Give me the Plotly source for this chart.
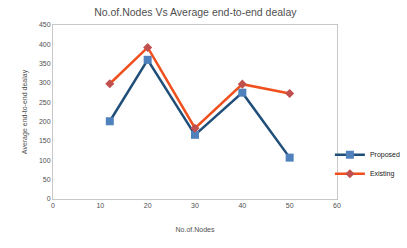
import plotly.graph_objects as go

nodes = [12, 20, 30, 40, 50]
proposed = [201, 360, 166, 275, 107]
existing = [298, 392, 183, 297, 273]
x_ticks = [0, 10, 20, 30, 40, 50, 60]
y_ticks = [0, 50, 100, 150, 200, 250, 300, 350, 400, 450]

fig = go.Figure()
fig.add_trace(go.Scatter(x=nodes, y=proposed, name="Proposed", mode="lines+markers",
                         line=dict(color="#1F4E79", width=2.5),
                         marker=dict(symbol="square", size=8, color="#4F81BD")))
fig.add_trace(go.Scatter(x=nodes, y=existing, name="Existing", mode="lines+markers",
                         line=dict(color="#F0501E", width=2.5),
                         marker=dict(symbol="diamond", size=7, color="#C0504D")))

gray = "#505050"
fig.update_layout(
    template="none",
    width=407, height=248,
    margin=dict(l=53, r=70, t=25, b=49, autoexpand=False),
    paper_bgcolor="white", plot_bgcolor="white",
    font=dict(family="Liberation Sans, Arial, sans-serif", size=7, color=gray),
    title=dict(text="No.of.Nodes Vs Average end-to-end dealay", x=0.48, xanchor="center",
               y=0.95, yanchor="middle", font=dict(size=10.5, color=gray)),
    xaxis=dict(range=[0, 60], tickvals=x_ticks, showgrid=False, zeroline=False,
               showline=True, linecolor="#C8C8C8", mirror=True, ticks="",
               tickfont=dict(color=gray, size=7),
               title=dict(text="No.of.Nodes", font=dict(size=7, color=gray), standoff=18)),
    yaxis=dict(range=[0, 450], tickvals=y_ticks, showgrid=False, zeroline=False,
               showline=True, linecolor="#C8C8C8", mirror=True, ticks="",
               tickfont=dict(color=gray, size=7),
               title=dict(text="Average end-to-end dealay", font=dict(size=7, color=gray), standoff=10)),
    legend=dict(x=0.975, y=0.2, xanchor="left", yanchor="middle",
                font=dict(size=7, color="#202020"), bgcolor="rgba(0,0,0,0)", itemwidth=30,
                tracegroupgap=4),
    showlegend=True,
)

fig.write_html("out.html")
